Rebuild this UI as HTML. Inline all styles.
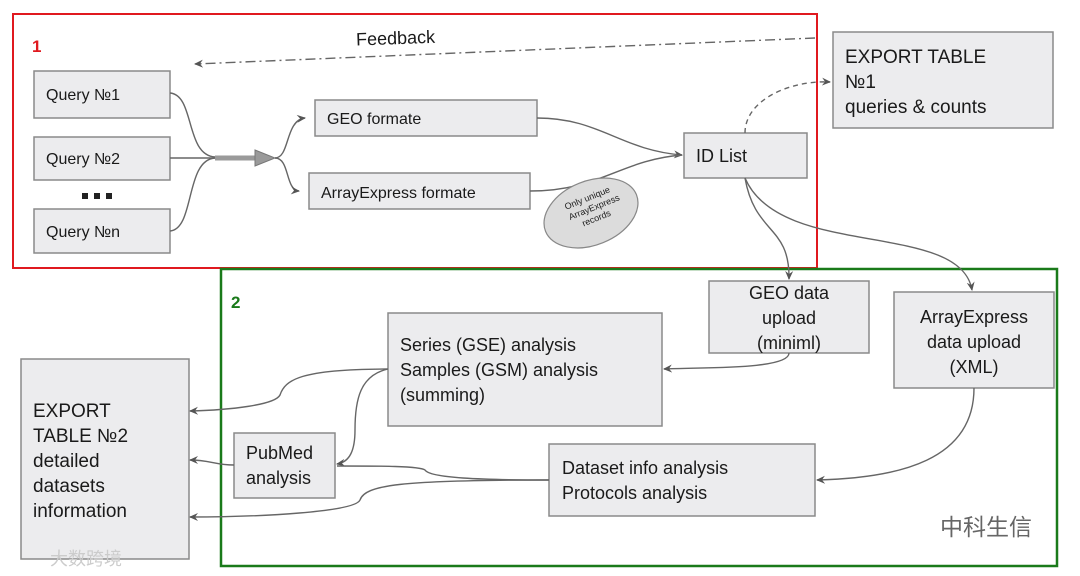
<!DOCTYPE html>
<html><head><meta charset="utf-8"><style>
html,body{margin:0;padding:0;background:#fff;}
svg{display:block;}
text{font-family:"Liberation Sans","Noto Sans CJK SC",sans-serif;fill:#1a1a1a;}
.b{fill:#ececee;stroke:#8a8a8a;stroke-width:1.5;}
.l{fill:none;stroke:#666;stroke-width:1.4;}
</style></head><body>
<svg width="1080" height="576" viewBox="0 0 1080 576" xmlns="http://www.w3.org/2000/svg">
<defs>
<marker id="a" markerWidth="10" markerHeight="10" refX="8" refY="5" orient="auto" markerUnits="userSpaceOnUse"><path d="M0,1 L9,5 L0,9 L3,5 Z" fill="#555"/></marker>
</defs>
<rect x="13" y="14" width="804" height="254" fill="none" stroke="#e0191f" stroke-width="2"/>
<rect x="221" y="269" width="836" height="297" fill="none" stroke="#1a7a1a" stroke-width="2.5"/>
<text x="32" y="52" font-size="17" font-weight="bold" style="fill:#e0191f">1</text>
<text x="231" y="308" font-size="17" font-weight="bold" style="fill:#1a7a1a">2</text>

<text x="356" y="44" font-size="18" transform="rotate(-2 400 38)">Feedback</text>
<path d="M815,38 L195,64" class="l" stroke-dasharray="10,4,2,4" marker-end="url(#a)"/>

<rect class="b" x="34" y="71" width="136" height="47"/>
<text x="46" y="100" font-size="16">Query №1</text>
<rect class="b" x="34" y="137" width="136" height="43"/>
<text x="46" y="164" font-size="16">Query №2</text>
<rect class="b" x="34" y="209" width="136" height="44"/>
<text x="46" y="237" font-size="16">Query №n</text>
<rect x="82" y="193" width="6" height="6" fill="#222"/><rect x="94" y="193" width="6" height="6" fill="#222"/><rect x="106" y="193" width="6" height="6" fill="#222"/>

<path d="M170,93 C195,95 185,155 215,157" class="l" stroke-width="2"/>
<path d="M170,158 L215,158" class="l" stroke-width="2"/>
<path d="M170,231 C195,229 185,160 215,158" class="l" stroke-width="2"/>
<path d="M215,158 L258,158" stroke="#9a9a9a" stroke-width="5" fill="none"/>
<path d="M255,150 L275,158 L255,166 Z" fill="#9a9a9a" stroke="#777"/>
<path d="M275,158 C290,158 285,120 305,118" class="l" marker-end="url(#a)"/>
<path d="M275,158 C290,158 285,190 299,191" class="l" marker-end="url(#a)"/>

<rect class="b" x="315" y="100" width="222" height="36"/>
<text x="327" y="124" font-size="16">GEO formate</text>
<rect class="b" x="309" y="173" width="221" height="36"/>
<text x="321" y="198" font-size="16">ArrayExpress formate</text>

<path d="M537,118 C600,118 620,150 682,155" class="l" marker-end="url(#a)"/>
<path d="M530,191 C600,191 620,160 682,155" class="l"/>

<rect class="b" x="684" y="133" width="123" height="45"/>
<text x="696" y="162" font-size="18">ID List</text>

<g transform="rotate(-22 591 213)"><ellipse cx="591" cy="213" rx="49" ry="32" fill="#dcdcdc" stroke="#888" stroke-width="1.2"/></g>
<text font-size="9" transform="translate(578,218) rotate(-22)"><tspan x="-8" y="-12">Only unique</tspan><tspan x="-8" y="-1">ArrayExpress</tspan><tspan x="2" y="10">records</tspan></text>

<path d="M745,133 C745,100 790,80 830,82" class="l" stroke-dasharray="5,4" marker-end="url(#a)"/>
<rect class="b" x="833" y="32" width="220" height="96"/>
<text font-size="19"><tspan x="845" y="63">EXPORT TABLE</tspan><tspan x="845" y="88">№1</tspan><tspan x="845" y="113">queries &amp; counts</tspan></text>

<path d="M745,178 C755,235 790,225 789,279" class="l" marker-end="url(#a)"/>
<path d="M745,178 C780,260 960,220 972,290" class="l" marker-end="url(#a)"/>

<rect class="b" x="709" y="281" width="160" height="72"/>
<text font-size="18" text-anchor="middle"><tspan x="789" y="299">GEO data</tspan><tspan x="789" y="324">upload</tspan><tspan x="789" y="349">(miniml)</tspan></text>

<rect class="b" x="894" y="292" width="160" height="96"/>
<text font-size="18" text-anchor="middle"><tspan x="974" y="323">ArrayExpress</tspan><tspan x="974" y="348">data upload</tspan><tspan x="974" y="373">(XML)</tspan></text>

<path d="M789,353 C789,370 700,367 664,369" class="l" marker-end="url(#a)"/>
<path d="M974,388 C974,460 900,478 817,480" class="l" marker-end="url(#a)"/>

<rect class="b" x="388" y="313" width="274" height="113"/>
<text font-size="18"><tspan x="400" y="351">Series (GSE) analysis</tspan><tspan x="400" y="376">Samples (GSM) analysis</tspan><tspan x="400" y="401">(summing)</tspan></text>

<rect class="b" x="549" y="444" width="266" height="72"/>
<text font-size="18"><tspan x="562" y="474">Dataset info analysis</tspan><tspan x="562" y="499">Protocols analysis</tspan></text>

<rect class="b" x="234" y="433" width="101" height="65"/>
<text font-size="18"><tspan x="246" y="459">PubMed</tspan><tspan x="246" y="484">analysis</tspan></text>

<rect class="b" x="21" y="359" width="168" height="200"/>
<text font-size="19"><tspan x="33" y="417">EXPORT</tspan><tspan x="33" y="442">TABLE №2</tspan><tspan x="33" y="467">detailed</tspan><tspan x="33" y="492">datasets</tspan><tspan x="33" y="517">information</tspan></text>

<path d="M388,369 C300,369 285,380 280,395 C275,405 230,410 190,411" class="l" marker-end="url(#a)"/>
<path d="M388,369 C360,375 355,400 355,430 C355,450 350,462 337,464" class="l" marker-end="url(#a)"/>
<path d="M234,465 C215,465 210,460 190,460" class="l" marker-end="url(#a)"/>
<path d="M549,480 C480,480 430,478 425,470 C420,466 380,466 337,466" class="l"/>
<path d="M549,480 C400,480 365,485 360,500 C355,512 260,517 190,517" class="l" marker-end="url(#a)"/>

<text x="940" y="535" font-size="23" style="fill:#666">中科生信</text>
<text x="50" y="565" font-size="18" style="fill:#ccc">大数跨境</text>
</svg>
</body></html>
